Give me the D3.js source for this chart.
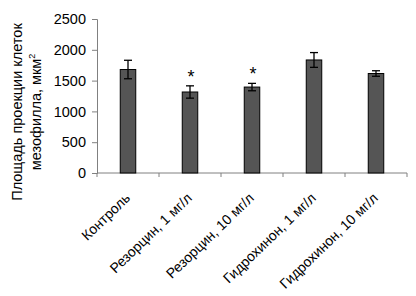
<!DOCTYPE html>
<html><head><meta charset="utf-8">
<script src="https://cdn.jsdelivr.net/npm/d3@7"></script>
<style>body{margin:0;background:#fff}svg{display:block;font-family:"Liberation Sans",Arial,sans-serif}</style>
</head><body><svg id="c" width="416" height="296"></svg>
<script>
const categories = ["Контроль","Резорцин, 1 мг/л","Резорцин, 10 мг/л","Гидрохинон, 1 мг/л","Гидрохинон, 10 мг/л"];
const values = [1680, 1315, 1395, 1835, 1615];
const errors = [150, 100, 60, 120, 45];
const significant = [false, true, true, false, false];
const yTicks = [0, 500, 1000, 1500, 2000, 2500];

const svg = d3.select("#c");
const x = d3.scaleBand().domain(categories).range([97, 407]);
const y = d3.scaleLinear().domain([0, 2500]).range([173, 19]);
const axisColor = "#808080";

// y axis
const ya = svg.append("g").attr("transform","translate(97,0)")
  .call(d3.axisLeft(y).tickValues(yTicks).tickFormat(d3.format("d")).tickSize(5).tickPadding(6));
ya.select(".domain").attr("stroke", axisColor);
ya.selectAll(".tick line").attr("stroke", axisColor);
ya.selectAll(".tick text").attr("font-size", 14.5).attr("fill","#000").attr("font-family","Liberation Sans, Arial, sans-serif");

// x axis
const xa = svg.append("g").attr("transform","translate(0,173)");
xa.append("line").attr("x1",97).attr("x2",407).attr("stroke",axisColor);
const bounds = categories.map(c => x(c)).concat([x.range()[1]]);
xa.selectAll("line.t").data(bounds).join("line").attr("class","t")
  .attr("x1", d=>d).attr("x2", d=>d).attr("y1",0).attr("y2",4).attr("stroke",axisColor);
xa.selectAll("text").data(categories).join("text")
  .attr("transform", d => `translate(${x(d)+x.bandwidth()/2+3},26) rotate(-44)`)
  .attr("text-anchor","end").attr("font-size",14).attr("fill","#000").text(d=>d);

// bars
const bw = x.bandwidth()*0.25;
svg.selectAll("rect.bar").data(categories).join("rect").attr("class","bar")
  .attr("x", d => x(d)+x.bandwidth()/2-bw/2)
  .attr("width", bw)
  .attr("y", (d,i) => y(values[i]))
  .attr("height", (d,i) => y(0)-y(values[i]))
  .attr("fill","#555555").attr("stroke","#000").attr("stroke-width",1);

// error bars
const eb = svg.append("g").attr("stroke","#000").attr("stroke-width",1.3);
categories.forEach((c,i) => {
  const cx = x(c)+x.bandwidth()/2;
  eb.append("line").attr("x1",cx).attr("x2",cx).attr("y1",y(values[i]-errors[i])).attr("y2",y(values[i]+errors[i]));
  eb.append("line").attr("x1",cx-4).attr("x2",cx+4).attr("y1",y(values[i]+errors[i])).attr("y2",y(values[i]+errors[i]));
  eb.append("line").attr("x1",cx-4).attr("x2",cx+4).attr("y1",y(values[i]-errors[i])).attr("y2",y(values[i]-errors[i]));
});

// significance stars
svg.selectAll("text.star").data(categories.filter((c,i)=>significant[i])).join("text").attr("class","star")
  .attr("x", c => x(c)+x.bandwidth()/2+1)
  .attr("y", c => { const i = categories.indexOf(c); return y(values[i]+errors[i]) - 3; })
  .attr("text-anchor","middle").attr("font-size",18).attr("fill","#000").text("*");

// y title
const yt = svg.append("text").attr("transform","translate(22,112) rotate(-90)")
  .attr("text-anchor","middle").attr("font-size",14.5).attr("fill","#000");
yt.append("tspan").attr("x",0).attr("y",0).text("Площадь проекции клеток");
yt.append("tspan").attr("x",0).attr("y",19).text("мезофилла, мкм");
yt.append("tspan").attr("font-size",9).attr("dy",-6).text("2");
</script></body></html>
